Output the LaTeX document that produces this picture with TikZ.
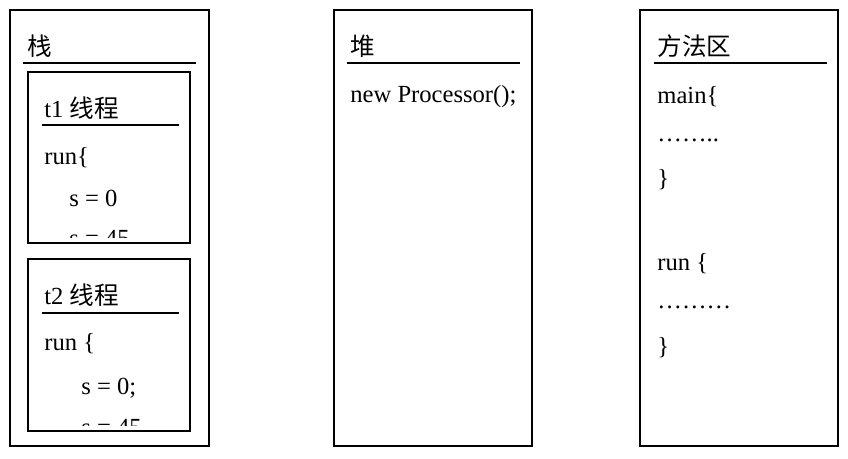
\documentclass[tikz,border=0pt]{standalone}
\usepackage{fontspec}
\setmainfont{Liberation Serif}
\newfontfamily\cjk{Noto Sans CJK SC}
\begin{document}
\begin{tikzpicture}[x=0.5pt, y=-0.5pt,
    area/.style={draw, line width=0.75pt},
    head/.style={line width=1.4pt},
    txt/.style={anchor=west, inner sep=0pt, font=\fontsize{12.3}{14}\selectfont}]
  \useasboundingbox (0,0) rectangle (848,459);
  % stack
  \draw[area] (10,10) rectangle (209,446);
  \node[txt] (stack) at (27,46) {\cjk 栈};
  \coordinate (sl) at (23,63);
  \coordinate (sr) at (196,63);
  \draw[head] (sl) -- (sr);
  % thread t1
  \draw[area] (28,72) rectangle (190,243);
  \node[txt] (t1) at (44,108) {t1 {\cjk 线程}};
  \coordinate (t1l) at (42,125);
  \coordinate (t1r) at (179,125);
  \draw[head] (t1l) -- (t1r);
  \begin{scope}
    \clip (29,73) rectangle (189,238);
    \node[txt] (run1) at (44,158) {run\{};
    \node[txt] (s1a) at (69,198) {s = 0};
    \node[txt] (s1b) at (69,239) {s = 45};
  \end{scope}
  % thread t2
  \draw[area] (28,259) rectangle (190,431);
  \node[txt] (t2) at (44,295) {t2 {\cjk 线程}};
  \coordinate (t2l) at (42,313);
  \coordinate (t2r) at (179,313);
  \draw[head] (t2l) -- (t2r);
  \begin{scope}
    \clip (29,260) rectangle (189,426);
    \node[txt] (run2) at (44,344) {run \{};
    \node[txt] (s2a) at (81,388) {s = 0;};
    \node[txt] (s2b) at (81,428) {s = 45};
  \end{scope}
  % heap
  \draw[area] (334,10) rectangle (532,446);
  \node[txt] (heap) at (350,46) {\cjk 堆};
  \coordinate (hl) at (347,63);
  \coordinate (hr) at (520,63);
  \draw[head] (hl) -- (hr);
  \node[txt] (obj) at (350,97) {new Processor();};
  % method area
  \draw[area] (640,10) rectangle (838,446);
  \node[txt] (method) at (657,46) {\cjk 方法区};
  \coordinate (ml) at (654,63);
  \coordinate (mr) at (827,63);
  \draw[head] (ml) -- (mr);
  \node[txt] (main) at (657,97) {main\{};
  \node[txt] (mdots) at (657,140) {……..};
  \node[txt] (mend) at (657,180) {\}};
  \node[txt] (run) at (657,264) {run \{};
  \node[txt] (rdots) at (657,307) {………};
  \node[txt] (rend) at (657,348) {\}};
\end{tikzpicture}
\end{document}
